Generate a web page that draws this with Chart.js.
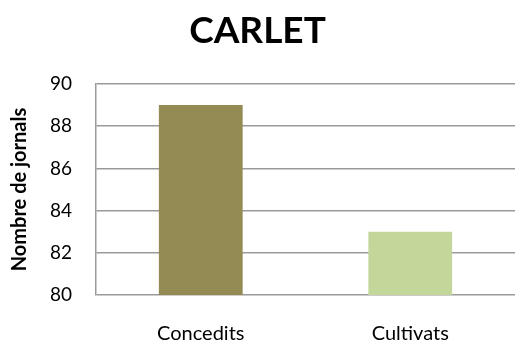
<!DOCTYPE html>
<html>
<head>
<meta charset="utf-8">
<script src="https://cdn.jsdelivr.net/npm/chart.js@4/dist/chart.umd.min.js"></script>
<style>
  html, body { margin: 0; padding: 0; background: #ffffff; overflow: hidden; }
  #wrap { width: 515px; height: 347px; }
</style>
</head>
<body>
<div id="wrap"><canvas id="chart" width="515" height="347"></canvas></div>
<script>
// Land allotted vs. land cultivated in Carlet (jornals)
const categories = ['Concedits', 'Cultivats'];
const values = [89, 83];
const barColors = ['#948A54', '#C4D79B'];
const yTicks = [80, 82, 84, 86, 88, 90];
const chartTitle = 'CARLET';
const yAxisTitle = 'Nombre de jornals';

const gridGrey = '#9a9a9a';
const fontFamily = 'Lato, "Open Sans", sans-serif';

new Chart(document.getElementById('chart'), {
  type: 'bar',
  data: {
    labels: categories,
    datasets: [{
      data: values,
      backgroundColor: barColors,
      borderWidth: 0,
      categoryPercentage: 1,
      barPercentage: 0.4
    }]
  },
  options: {
    responsive: false,
    animation: false,
    layout: { padding: { left: 0, right: 0, top: 0, bottom: 2 } },
    plugins: {
      legend: { display: false },
      tooltip: { enabled: false },
      title: {
        display: true,
        text: chartTitle,
        color: '#000000',
        font: { family: fontFamily, size: 37, weight: 'bold' },
        padding: { top: 9, bottom: 30.6 }
      }
    },
    scales: {
      x: {
        grid: { display: false, drawTicks: false },
        border: { display: false },
        afterFit: (scale) => { scale.height = 50; },
        ticks: {
          color: '#000000',
          font: { family: fontFamily, size: 20 },
          padding: 27,
          maxRotation: 0
        }
      },
      y: {
        min: yTicks[0],
        max: yTicks[yTicks.length - 1],
        afterBuildTicks: (scale) => { scale.ticks = yTicks.map(v => ({ value: v })); },
        afterFit: (scale) => { scale.width = 96; },
        grid: { color: gridGrey, lineWidth: 1.5, drawTicks: false },
        border: { color: gridGrey, width: 1.5 },
        ticks: {
          color: '#000000',
          font: { family: fontFamily, size: 19 },
          padding: 24
        },
        title: {
          display: true,
          text: yAxisTitle,
          color: '#000000',
          font: { family: fontFamily, size: 20, weight: 'bold' },
          padding: { top: 8, bottom: 0 }
        }
      }
    }
  }
});
</script>
</body>
</html>
